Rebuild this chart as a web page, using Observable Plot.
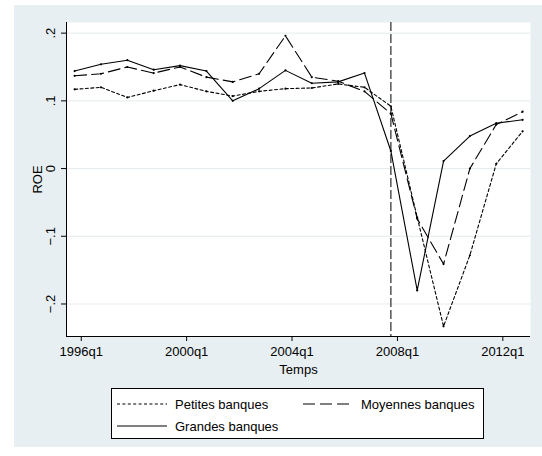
<!DOCTYPE html>
<html>
<head>
<meta charset="utf-8">
<script src="https://cdn.jsdelivr.net/npm/d3@7"></script>
<script src="https://cdn.jsdelivr.net/npm/@observablehq/plot@0.6"></script>
<style>
  html, body { margin: 0; padding: 0; background: #ffffff; }
  body { width: 542px; height: 456px; position: relative; overflow: hidden;
         font-family: "Liberation Sans", Arial, sans-serif; }
  #bg { position: absolute; left: 14px; top: 5px; width: 528px; height: 442px; background: #e8eff2; }
  #chart { position: absolute; left: 0; top: 0; }
  #legend { position: absolute; left: 111px; top: 388px; width: 371px; height: 49px;
            background: #ffffff; border: 1px solid #000; }
  .item { position: absolute; height: 16px; display: flex; align-items: center; font-size: 13px; color: #000; }
  .item svg { margin-right: 8px; }
</style>
</head>
<body>
<div id="bg"></div>
<div id="chart"></div>
<div id="legend"></div>
<script>
// ---- data ----
const quarters = ["1995q4","1996q4","1997q4","1998q4","1999q4","2000q4","2001q4","2002q4","2003q4",
                  "2004q4","2005q4","2006q4","2007q4","2008q4","2009q4","2010q4","2011q4","2012q4"];
const petites  = [0.117, 0.120, 0.105, 0.115, 0.124, 0.114, 0.107, 0.114, 0.118,
                  0.119, 0.125, 0.120, 0.092, -0.072, -0.233, -0.128, 0.007, 0.055];
const moyennes = [0.137, 0.140, 0.150, 0.141, 0.150, 0.135, 0.128, 0.140, 0.196,
                  0.135, 0.129, 0.114, 0.081, -0.074, -0.141, 0.000, 0.065, 0.084];
const grandes  = [0.144, 0.154, 0.160, 0.146, 0.152, 0.144, 0.100, 0.118, 0.145,
                  0.126, 0.128, 0.141, 0.026, -0.180, 0.011, 0.048, 0.067, 0.072];
const seriesNames = ["Petites banques", "Moyennes banques", "Grandes banques"];
const xTickLabels = ["1996q1","2000q1","2004q1","2008q1","2012q1"];
const yTickValues = [0.2, 0.1, 0, -0.1, -0.2];
const crisisQuarter = "2007q4";
const xTitle = "Temps";
const yTitle = "ROE";

// ---- helpers ----
const qToNum = s => { const [y, q] = s.split("q"); return +y + (+q - 1) / 4; };
const fmtY = v => v === 0 ? "0" : (v < 0 ? "\u2212" : "") + String(Math.abs(v)).replace(/^0/, "");
const tickMap = new Map(xTickLabels.map(s => [qToNum(s), s]));
const rowsOf = vals => quarters.map((q, i) => ({t: qToNum(q), v: vals[i]}));
const seriesData = [rowsOf(petites), rowsOf(moyennes), rowsOf(grandes)];
const dashes = ["3,2.4", "12,5", null];

const xDomain = [1995.44, 2013.05];
const yDomain = [-0.248, 0.2157];

const marks = [
  Plot.frame({fill: "#ffffff", stroke: null}),
  Plot.gridY(yTickValues, {stroke: "#e3ebee", strokeOpacity: 1, strokeWidth: 1}),
  Plot.ruleX([qToNum(crisisQuarter)], {stroke: "#555555", strokeWidth: 1.5, strokeDasharray: "9,3"}),
];
seriesData.forEach((rows, i) => {
  marks.push(Plot.line(rows, {x: "t", y: "v", stroke: "#000", strokeWidth: 1.1,
    strokeDasharray: dashes[i] || undefined, curve: "linear"}));
  marks.push(Plot.dot(rows, {x: "t", y: "v", r: 1.1, fill: "#000", stroke: null}));
});
marks.push(
  Plot.ruleX([xDomain[0]], {stroke: "#000", strokeWidth: 1}),
  Plot.ruleY([yDomain[0]], {stroke: "#000", strokeWidth: 1}),
  Plot.axisX([...tickMap.keys()], {tickSize: 5, tickPadding: 5, tickFormat: d => tickMap.get(d),
    fontSize: 13, label: null, stroke: "#000", fill: "#000"}),
  Plot.axisY(yTickValues, {tickSize: 5, tickFormat: () => "", label: null, stroke: "#000"}),
  Plot.text(yTickValues, {y: d => d, text: fmtY, frameAnchor: "left", dx: -16, rotate: -90,
    textAnchor: "middle", lineAnchor: "middle", fontSize: 13, fill: "#000"}),
  Plot.text([yTitle], {frameAnchor: "left", dx: -29, rotate: -90,
    textAnchor: "middle", lineAnchor: "middle", fontSize: 13, fill: "#000"}),
  Plot.text([xTitle], {frameAnchor: "bottom", dy: 33, textAnchor: "middle", lineAnchor: "middle",
    fontSize: 13, fill: "#000"})
);

const chart = Plot.plot({
  width: 542, height: 380,
  marginLeft: 66, marginRight: 12, marginTop: 22, marginBottom: 44,
  style: {background: "transparent", fontFamily: "Liberation Sans, Arial, sans-serif", fontSize: "13px", overflow: "visible"},
  x: {type: "linear", domain: xDomain},
  y: {type: "linear", domain: yDomain},
  marks
});
document.getElementById("chart").appendChild(chart);

// ---- legend ----
const legend = document.getElementById("legend");
const legendPos = [[5, 7], [191, 7], [5, 29]];
seriesNames.forEach((name, i) => {
  const div = document.createElement("div");
  div.className = "item";
  div.style.left = legendPos[i][0] + "px";
  div.style.top = legendPos[i][1] + "px";
  const dash = dashes[i] ? `stroke-dasharray="${dashes[i]}"` : "";
  div.innerHTML = `<svg width="50" height="4"><line x1="0" y1="2" x2="50" y2="2" stroke="#000" stroke-width="1.1" ${dash}/></svg><span>${name}</span>`;
  legend.appendChild(div);
});
</script>
</body>
</html>
